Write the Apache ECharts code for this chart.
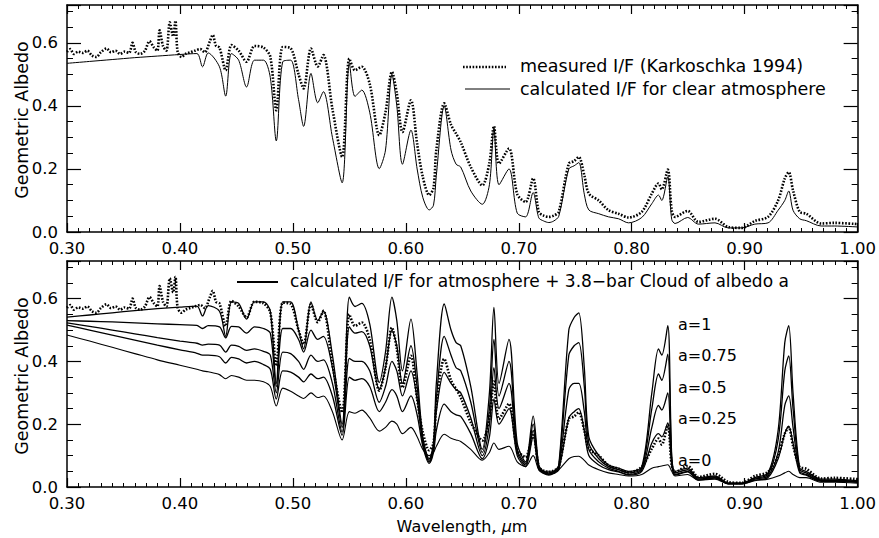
<!DOCTYPE html>
<html>
<head>
<meta charset="utf-8">
<script src="https://cdn.jsdelivr.net/npm/echarts@6/dist/echarts.min.js"></script>
<style>html,body{margin:0;padding:0;background:#fff}#c{width:879px;height:538px}</style>
</head>
<body>
<div id="c"></div>
<script>
// ---- data ----
const xTickValues = [0.30, 0.40, 0.50, 0.60, 0.70, 0.80, 0.90, 1.00];
const yTickValues = [0.0, 0.2, 0.4, 0.6];

const calcWl = [0.300,0.320,0.340,0.360,0.380,0.400,0.415,0.420,0.425,0.435,
0.4405,0.4456,0.452,0.459,0.466,0.474,0.480,0.4853,0.491,0.498,
0.505,0.5095,0.516,0.522,0.527,0.535,0.5436,0.550,0.555,0.561,
0.568,0.5765,0.582,0.5877,0.592,0.597,0.6045,0.610,0.615,0.6207,0.6245,0.627,
0.634,0.640,0.6445,0.6486,0.6575,0.6677,0.674,0.678,0.6825,0.6913,
0.6986,0.706,0.7127,0.7177,0.722,0.7266,0.731,0.7354,0.7443,0.749,0.7531,0.758,
0.762,0.7708,0.7795,0.7883,0.7972,0.8089,0.8178,0.8237,0.8266,0.8319,
0.8354,0.8384,0.8495,0.859,0.8737,0.8854,0.8972,0.909,0.9207,0.9296,
0.9355,0.939,0.9428,0.9487,0.9545,0.9678,0.9796,1.000];

const clearAtm = [0.535,0.541,0.547,0.553,0.558,0.563,0.566,0.524,0.568,0.524,
0.431,0.566,0.545,0.46,0.545,0.545,0.49,0.289,0.54,0.545,
0.42,0.335,0.503,0.41,0.445,0.30,0.156,0.535,0.43,0.45,
0.38,0.201,0.26,0.50,0.40,0.215,0.323,0.20,0.11,0.07,0.085,0.18,
0.40,0.26,0.215,0.206,0.13,0.088,0.15,0.33,0.15,0.20,
0.06,0.048,0.125,0.045,0.035,0.03,0.035,0.05,0.20,0.21,0.22,0.12,
0.07,0.058,0.048,0.042,0.029,0.046,0.09,0.117,0.10,0.175,
0.04,0.027,0.046,0.025,0.029,0.013,0.013,0.025,0.029,0.069,
0.10,0.13,0.069,0.042,0.036,0.019,0.019,0.016];

const measuredWl = [0.300,0.303,0.306,0.310,0.314,0.318,0.322,0.326,0.330,0.335,
0.339,0.343,0.347,0.351,0.355,0.358,0.361,0.365,0.369,0.373,
0.377,0.380,0.382,0.385,0.388,0.391,0.394,0.396,0.398,0.4015,
0.405,0.409,0.413,0.418,0.422,0.4265,0.429,0.432,0.435,
0.4405,0.4456,0.452,0.459,0.466,0.474,0.480,0.4853,0.491,0.498,
0.505,0.5095,0.516,0.522,0.527,0.535,0.5436,0.550,0.555,0.561,
0.568,0.5765,0.582,0.5877,0.592,0.597,0.6045,0.610,0.615,0.6207,0.6245,0.627,
0.634,0.640,0.6445,0.6486,0.6575,0.6677,0.674,0.678,0.6825,0.6913,
0.6986,0.706,0.7127,0.7177,0.722,0.7266,0.731,0.7354,0.7443,0.749,0.7531,0.758,
0.762,0.7708,0.7795,0.7883,0.7972,0.8089,0.8178,0.8237,0.8266,0.8319,
0.8354,0.8384,0.8495,0.859,0.8737,0.8854,0.8972,0.909,0.9207,0.9296,
0.9355,0.939,0.9428,0.9487,0.9545,0.9678,0.9796,1.000];

const measured = [0.571,0.580,0.565,0.572,0.568,0.575,0.560,0.555,0.570,0.582,
0.570,0.575,0.565,0.572,0.568,0.600,0.570,0.565,0.575,0.605,
0.585,0.575,0.640,0.590,0.575,0.665,0.620,0.670,0.570,0.555,
0.565,0.570,0.575,0.580,0.570,0.605,0.625,0.590,0.585,
0.513,0.593,0.575,0.54,0.59,0.585,0.556,0.386,0.587,0.583,
0.50,0.455,0.582,0.525,0.561,0.39,0.238,0.55,0.513,0.524,
0.47,0.307,0.38,0.508,0.44,0.317,0.418,0.28,0.175,0.117,0.14,0.26,
0.408,0.34,0.312,0.285,0.206,0.148,0.22,0.336,0.217,0.265,
0.12,0.095,0.17,0.064,0.052,0.048,0.052,0.064,0.217,0.225,0.238,0.18,
0.122,0.10,0.069,0.058,0.046,0.064,0.122,0.154,0.135,0.198,
0.069,0.048,0.067,0.032,0.042,0.016,0.013,0.035,0.048,0.10,
0.17,0.19,0.132,0.064,0.058,0.027,0.029,0.025];

const cloudA100 = [0.541,0.548,0.555,0.562,0.568,0.573,0.576,0.545,0.578,0.56,
0.48,0.59,0.585,0.535,0.59,0.59,0.56,0.33,0.59,0.59,
0.50,0.44,0.59,0.53,0.56,0.42,0.20,0.605,0.575,0.585,
0.52,0.333,0.43,0.605,0.53,0.37,0.535,0.36,0.16,0.09,0.14,0.33,
0.583,0.50,0.46,0.45,0.32,0.12,0.30,0.572,0.33,0.47,
0.14,0.08,0.226,0.07,0.05,0.045,0.05,0.07,0.50,0.54,0.555,0.38,
0.16,0.10,0.07,0.06,0.05,0.065,0.30,0.44,0.42,0.514,
0.10,0.05,0.06,0.03,0.035,0.012,0.012,0.03,0.045,0.18,
0.46,0.514,0.30,0.06,0.05,0.025,0.025,0.02];

const cloudA075 = [0.530,0.528,0.526,0.523,0.520,0.517,0.515,0.505,0.514,0.51,
0.475,0.512,0.51,0.49,0.51,0.505,0.49,0.32,0.505,0.505,
0.47,0.43,0.50,0.47,0.48,0.38,0.19,0.51,0.49,0.495,
0.45,0.31,0.38,0.50,0.45,0.33,0.45,0.32,0.15,0.085,0.13,0.28,
0.48,0.42,0.38,0.37,0.27,0.11,0.25,0.47,0.29,0.40,
0.12,0.075,0.20,0.065,0.048,0.042,0.048,0.065,0.42,0.45,0.46,0.32,
0.14,0.09,0.065,0.055,0.045,0.06,0.25,0.36,0.34,0.423,
0.09,0.045,0.055,0.028,0.032,0.012,0.012,0.028,0.04,0.15,
0.37,0.418,0.25,0.055,0.045,0.022,0.022,0.018];

const cloudA050 = [0.523,0.512,0.500,0.488,0.476,0.465,0.458,0.452,0.455,0.452,
0.43,0.452,0.448,0.435,0.44,0.432,0.42,0.30,0.43,0.425,
0.40,0.375,0.42,0.40,0.405,0.33,0.175,0.41,0.40,0.40,
0.37,0.27,0.32,0.40,0.37,0.29,0.37,0.28,0.14,0.08,0.12,0.24,
0.365,0.33,0.31,0.30,0.22,0.10,0.20,0.38,0.25,0.33,
0.11,0.07,0.18,0.06,0.045,0.04,0.045,0.06,0.31,0.33,0.33,0.24,
0.12,0.08,0.06,0.05,0.04,0.055,0.19,0.26,0.245,0.30,
0.08,0.04,0.05,0.025,0.03,0.011,0.011,0.025,0.035,0.11,
0.26,0.29,0.19,0.05,0.04,0.02,0.02,0.016];

const cloudA025 = [0.516,0.500,0.484,0.468,0.452,0.437,0.426,0.42,0.42,0.415,
0.395,0.413,0.408,0.395,0.40,0.39,0.375,0.28,0.37,0.366,
0.35,0.335,0.36,0.345,0.35,0.29,0.165,0.35,0.34,0.345,
0.32,0.24,0.27,0.31,0.29,0.24,0.29,0.23,0.13,0.075,0.11,0.18,
0.264,0.24,0.23,0.225,0.17,0.09,0.16,0.28,0.20,0.25,
0.10,0.065,0.16,0.055,0.043,0.038,0.043,0.055,0.22,0.24,0.25,0.18,
0.10,0.07,0.055,0.048,0.038,0.05,0.14,0.17,0.16,0.204,
0.07,0.038,0.048,0.022,0.028,0.01,0.01,0.022,0.03,0.09,
0.17,0.194,0.14,0.045,0.038,0.018,0.018,0.015];

const cloudA000 = [0.484,0.465,0.445,0.425,0.405,0.388,0.375,0.37,0.367,0.358,
0.345,0.355,0.35,0.34,0.34,0.335,0.32,0.258,0.315,0.305,
0.29,0.282,0.30,0.285,0.29,0.24,0.15,0.24,0.235,0.245,
0.22,0.178,0.19,0.21,0.20,0.17,0.19,0.16,0.12,0.10,0.11,0.13,
0.168,0.155,0.15,0.145,0.12,0.085,0.11,0.14,0.12,0.13,
0.08,0.065,0.10,0.055,0.05,0.05,0.05,0.055,0.09,0.097,0.098,0.085,
0.07,0.055,0.045,0.04,0.035,0.04,0.06,0.065,0.067,0.071,
0.05,0.035,0.04,0.022,0.025,0.01,0.01,0.02,0.025,0.035,
0.045,0.05,0.04,0.03,0.03,0.015,0.015,0.012];

const cloudLabels = ['a=1', 'a=0.75', 'a=0.5', 'a=0.25', 'a=0'];

// ---- chart ----
const FONT = 'DejaVu Sans';
const pair = (xs, ys) => xs.map((x, i) => [x, ys[i]]);
const chart = echarts.init(document.getElementById('c'), null, {renderer: 'svg'});

function xAx(grid, pos, labels) {
  return {
    type: 'value', gridIndex: grid, position: pos, min: 0.3, max: 1.0, interval: 0.1,
    axisLine: {show: true, onZero: false, lineStyle: {color: '#000', width: 1.5}},
    axisTick: {show: true, inside: true, length: 9, lineStyle: {color: '#000', width: 1.2}},
    minorTick: {show: true, splitNumber: 10, length: 4, lineStyle: {color: '#000', width: 1}},
    splitLine: {show: false}, minorSplitLine: {show: false},
    axisLabel: {show: labels, margin: 8, color: '#000', fontSize: 16.5, fontFamily: FONT,
      formatter: v => xTickValues.some(t => Math.abs(t - v) < 1e-6) ? v.toFixed(2) : ''}
  };
}
function yAx(grid, pos, labels) {
  return {
    type: 'value', gridIndex: grid, position: pos, min: 0, max: 0.72, interval: 0.2,
    axisLine: {show: true, onZero: false, lineStyle: {color: '#000', width: 1.5}},
    axisTick: {show: true, inside: true, length: 14, lineStyle: {color: '#000', width: 1.2}},
    minorTick: {show: true, splitNumber: 4, length: 6, lineStyle: {color: '#000', width: 1}},
    splitLine: {show: false}, minorSplitLine: {show: false},
    axisLabel: {show: labels, margin: 9, color: '#000', fontSize: 16.5, fontFamily: FONT, showMaxLabel: false,
      formatter: v => yTickValues.some(t => Math.abs(t - v) < 1e-6) ? v.toFixed(1) : ''}
  };
}

const SMOOTH = 0.3;
const measuredStyle = {color: '#000', width: 2.6, type: [1.6, 1.6], cap: 'butt'};
const calcLine = (name, xi, yi, ys, w) => ({
  name, type: 'line', xAxisIndex: xi, yAxisIndex: yi, data: pair(calcWl, ys),
  showSymbol: false, symbol: 'none', smooth: SMOOTH, clip: true,
  lineStyle: {color: '#000', width: w}, z: 3
});
const measuredLine = (xi, yi) => ({
  name: 'measured', type: 'line', xAxisIndex: xi, yAxisIndex: yi, data: pair(measuredWl, measured),
  showSymbol: false, symbol: 'none', smooth: SMOOTH, clip: true, lineStyle: measuredStyle, z: 4
});

const LEG = '17.5px ' + FONT;
const option = {
  animation: false,
  backgroundColor: '#fff',
  grid: [
    {left: 67, right: 20, top: 5, height: 227},
    {left: 67, right: 20, top: 261, height: 226}
  ],
  xAxis: [xAx(0, 'bottom', true), xAx(0, 'top', false), xAx(1, 'bottom', true), xAx(1, 'top', false)],
  yAxis: [yAx(0, 'left', true), yAx(0, 'right', false), yAx(1, 'left', true), yAx(1, 'right', false)],
  series: [
    measuredLine(0, 0),
    calcLine('clear', 0, 0, clearAtm, 1),
    measuredLine(2, 2),
    calcLine('a=1', 2, 2, cloudA100, 1.3),
    calcLine('a=0.75', 2, 2, cloudA075, 1.3),
    calcLine('a=0.5', 2, 2, cloudA050, 1.3),
    calcLine('a=0.25', 2, 2, cloudA025, 1.3),
    calcLine('a=0', 2, 2, cloudA000, 1.1)
  ],
  graphic: [
    {type: 'text', x: 22, y: 120, rotation: Math.PI / 2,
      style: {text: 'Geometric Albedo', font: '17.5px ' + FONT, fill: '#000', align: 'center', verticalAlign: 'middle'}},
    {type: 'text', x: 22, y: 376, rotation: Math.PI / 2,
      style: {text: 'Geometric Albedo', font: '17.5px ' + FONT, fill: '#000', align: 'center', verticalAlign: 'middle'}},
    {type: 'text', x: 462, y: 526,
      style: {text: 'Wavelength, {i|μ}m', font: '16px ' + FONT, fill: '#000', align: 'center', verticalAlign: 'middle',
        rich: {i: {fontStyle: 'italic', fontSize: 16, fontFamily: FONT}}}},
    {type: 'line', shape: {x1: 463, y1: 67, x2: 506, y2: 67},
      style: {stroke: '#000', lineWidth: 2.6, lineDash: [1.6, 1.6]}},
    {type: 'text', x: 520, y: 66,
      style: {text: 'measured I/F (Karkoschka 1994)', font: LEG, fill: '#000', align: 'left', verticalAlign: 'middle'}},
    {type: 'line', shape: {x1: 465, y1: 89, x2: 510, y2: 89}, style: {stroke: '#000', lineWidth: 1}},
    {type: 'text', x: 520, y: 89,
      style: {text: 'calculated I/F for clear atmosphere', font: LEG, fill: '#000', align: 'left', verticalAlign: 'middle'}},
    {type: 'line', shape: {x1: 237, y1: 282, x2: 278, y2: 282}, style: {stroke: '#000', lineWidth: 2}},
    {type: 'text', x: 290, y: 281,
      style: {text: 'calculated I/F for atmosphere + 3.8\u2212bar Cloud of albedo a', font: '17px ' + FONT, fill: '#000', align: 'left', verticalAlign: 'middle'}},
    {type: 'text', x: 678, y: 324, style: {text: cloudLabels[0], font: '16px ' + FONT, fill: '#000', verticalAlign: 'middle'}},
    {type: 'text', x: 678, y: 355, style: {text: cloudLabels[1], font: '16px ' + FONT, fill: '#000', verticalAlign: 'middle'}},
    {type: 'text', x: 678, y: 387, style: {text: cloudLabels[2], font: '16px ' + FONT, fill: '#000', verticalAlign: 'middle'}},
    {type: 'text', x: 678, y: 418, style: {text: cloudLabels[3], font: '16px ' + FONT, fill: '#000', verticalAlign: 'middle'}},
    {type: 'text', x: 678, y: 460, style: {text: cloudLabels[4], font: '16px ' + FONT, fill: '#000', verticalAlign: 'middle'}}
  ]
};
chart.setOption(option);
</script>
</body>
</html>
